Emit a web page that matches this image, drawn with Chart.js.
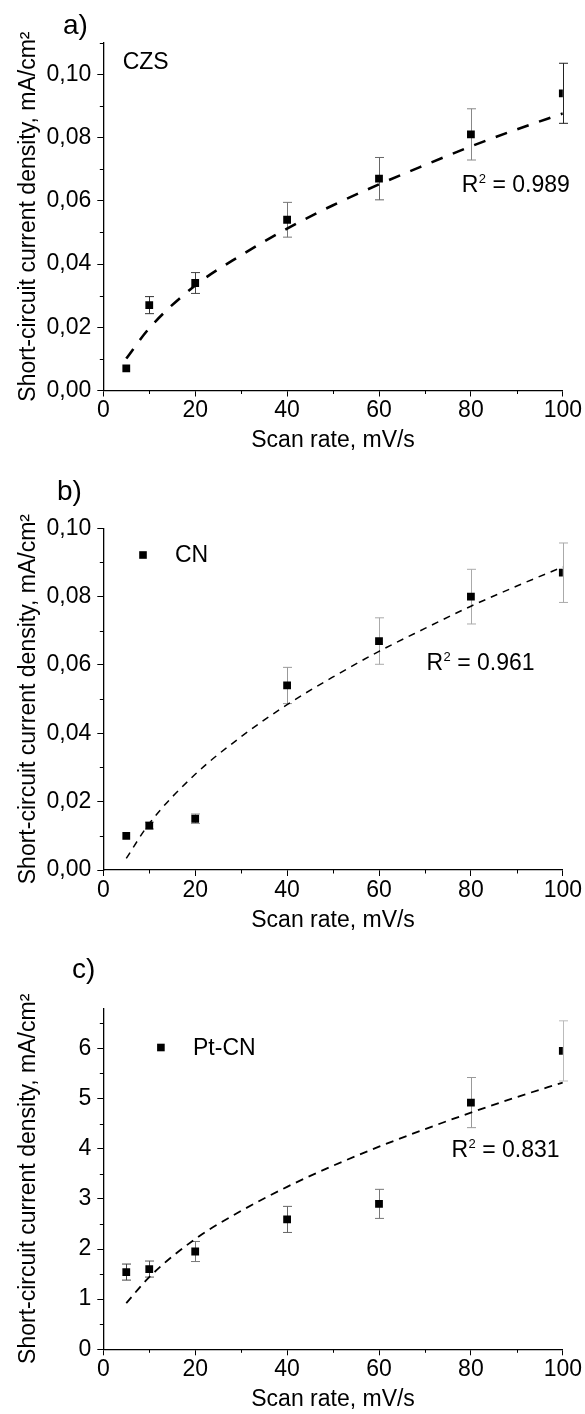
<!DOCTYPE html>
<html>
<head>
<meta charset="utf-8">
<script src="https://cdn.jsdelivr.net/npm/chart.js@4.4.1/dist/chart.umd.min.js"></script>
<style>
  html, body { margin: 0; padding: 0; background: #fff; }
  body { width: 585px; height: 1414px; position: relative; overflow: hidden; }
  canvas { position: absolute; left: 0; width: 585px; }
</style>
</head>
<body>
<canvas id="panelA" width="585" height="470" style="top:0px;height:470px"></canvas>
<canvas id="panelB" width="585" height="470" style="top:470px;height:470px"></canvas>
<canvas id="panelC" width="585" height="474" style="top:940px;height:474px"></canvas>
<script>
const FONT = "'Liberation Sans', Arial, sans-serif"

// scan rates, mV/s
const scanRate = [5, 10, 20, 40, 60, 80, 100]

// a) CZS, mA/cm2
const czsJsc = [0.007, 0.027, 0.034, 0.054, 0.067, 0.081, 0.094]
const czsErr = [0, 0.0027, 0.0033, 0.0055, 0.0067, 0.0081, 0.0095]
// b) CN
const cnJsc = [0.010, 0.013, 0.015, 0.054, 0.067, 0.080, 0.087]
const cnErr = [0, 0.001, 0.0014, 0.0053, 0.0068, 0.0080, 0.0087]
// c) Pt-CN
const ptcnJsc = [1.54, 1.60, 1.95, 2.59, 2.90, 4.92, 5.95]
const ptcnErr = [0.16, 0.16, 0.20, 0.26, 0.29, 0.50, 0.60]

// dashed fit curves
const fitRate = [5, 10, 20, 30, 40, 50, 60, 70, 80, 90, 100]
const czsFit = [0.0101, 0.0197, 0.0332, 0.0428, 0.0512, 0.0586, 0.0652, 0.0713, 0.0772, 0.0826, 0.0876]
const cnFit = [0.0034, 0.0136, 0.0280, 0.0390, 0.0484, 0.0565, 0.0640, 0.0707, 0.0772, 0.0831, 0.0887]
const ptcnFit = [0.92, 1.44, 2.20, 2.76, 3.24, 3.66, 4.04, 4.39, 4.72, 5.03, 5.32]

const sampleNames = ["CZS", "CN", "Pt-CN"]
const r2Values = ["0.989", "0.961", "0.831"]
const panelLetters = ["a)", "b)", "c)"]
const xTitle = "Scan rate, mV/s"
const yTitle = "Short-circuit current density, mA/cm²"

// error bars under the markers
const errorBars = {
  id: "errorBars",
  beforeDatasetsDraw(chart) {
    const ds = chart.data.datasets[0]
    const { x, y } = chart.scales
    const ctx = chart.ctx
    ctx.save()
    ctx.lineWidth = 1
    ds.data.forEach((pt, i) => {
      const e = ds.errors[i]
      if (!e) return
      const px = Math.round(x.getPixelForValue(pt.x)) + 0.5
      const top = y.getPixelForValue(pt.y + e)
      const bot = y.getPixelForValue(pt.y - e)
      ctx.strokeStyle = ds.errorColors[i]
      ctx.beginPath()
      ctx.moveTo(px, top)
      ctx.lineTo(px, bot)
      ctx.moveTo(px - 4.5, top)
      ctx.lineTo(px + 4.5, top)
      ctx.moveTo(px - 4.5, bot)
      ctx.lineTo(px + 4.5, bot)
      ctx.stroke()
    })
    ctx.restore()
  },
}

// short ticks halfway between the labelled ones
const minorTicks = {
  id: "minorTicks",
  afterDraw(chart) {
    const ctx = chart.ctx
    ctx.save()
    ctx.strokeStyle = "#000"
    ctx.lineWidth = 1
    ctx.beginPath()
    for (const id of ["x", "y"]) {
      const s = chart.scales[id]
      const vals = s.ticks.map((t) => t.value)
      const step = vals[1] - vals[0]
      for (let v = vals[0] + step / 2; v <= s.max + 1e-9; v += step) {
        const p = Math.round(s.getPixelForValue(v)) + 0.5
        if (id === "x") {
          ctx.moveTo(p, s.top)
          ctx.lineTo(p, s.top + 3.5)
        } else {
          ctx.moveTo(s.right, p)
          ctx.lineTo(s.right - 3.5, p)
        }
      }
    }
    ctx.stroke()
    ctx.restore()
  },
}

// panel letter, sample label and R² note
const panelText = {
  id: "panelText",
  afterDraw(chart, args, opts) {
    const ctx = chart.ctx
    ctx.save()
    ctx.fillStyle = "#000"
    ctx.textAlign = "left"
    ctx.textBaseline = "alphabetic"
    ctx.font = `28px ${FONT}`
    ctx.fillText(opts.letter, opts.letterPos[0], opts.letterPos[1])
    ctx.font = `23px ${FONT}`
    ctx.fillText(opts.name, opts.namePos[0], opts.namePos[1])
    if (opts.marker) {
      ctx.fillRect(opts.marker[0] - 3.8, opts.marker[1] - 3.8, 7.6, 7.6)
    }
    let [rx, ry] = opts.r2Pos
    ctx.fillText("R", rx, ry)
    rx += ctx.measureText("R").width + 0.5
    ctx.font = `13px ${FONT}`
    ctx.fillText("2", rx, ry - 9)
    rx += ctx.measureText("2").width
    ctx.font = `23px ${FONT}`
    ctx.fillText(" = " + opts.r2, rx, ry)
    ctx.restore()
  },
}

const axisFont = { family: FONT, size: 23, lineHeight: 1 }

function buildPanel(canvasId, p) {
  return new Chart(document.getElementById(canvasId), {
    type: "scatter",
    data: {
      datasets: [
        {
          label: p.name,
          data: scanRate.map((x, i) => ({ x, y: p.jsc[i] })),
          errors: p.err,
          errorColors: p.errColors,
          pointStyle: "rect",
          pointRadius: 5.5,
          pointBackgroundColor: "#000",
          pointBorderWidth: 0,
          order: 0,
        },
        {
          type: "line",
          label: "fit",
          data: fitRate.map((x, i) => ({ x, y: p.fit[i] })),
          borderColor: "#000",
          borderWidth: p.fitWidth,
          borderDash: p.fitDash,
          pointRadius: 0,
          cubicInterpolationMode: "monotone",
          fill: false,
          order: 1,
        },
      ],
    },
    options: {
      responsive: false,
      animation: false,
      devicePixelRatio: 1,
      layout: { padding: { top: p.top, right: 19.5, bottom: p.bottom, left: 0 } },
      plugins: {
        legend: { display: false },
        tooltip: { enabled: false },
        panelText: p.text,
      },
      scales: {
        x: {
          type: "linear",
          min: 0,
          max: 100,
          afterFit: (s) => { s.height = 63 },
          border: { display: true, color: "#000", width: 1.3 },
          grid: { drawOnChartArea: false, drawTicks: true, tickLength: 6, tickColor: "#000", tickWidth: 1 },
          ticks: { stepSize: 20, padding: 3, color: "#000", maxRotation: 0, font: axisFont },
          title: { display: true, text: xTitle, color: "#000", font: axisFont, padding: { top: 0, bottom: 1 } },
        },
        y: {
          type: "linear",
          min: 0,
          max: p.yMax,
          afterFit: (s) => { s.width = 103.3 },
          border: { display: true, color: "#000", width: 1.3 },
          grid: { drawOnChartArea: false, drawTicks: true, tickLength: 6, tickColor: "#000", tickWidth: 1 },
          ticks: { stepSize: p.yStep, includeBounds: false, padding: 6, color: "#000", font: axisFont, callback: p.yFmt },
          title: { display: true, text: yTitle, color: "#000", font: axisFont, padding: { top: 17.5, bottom: 0 } },
        },
      },
    },
    plugins: [errorBars, minorTicks, panelText],
  })
}

const commaFmt = (v) => v.toFixed(2).replace(".", ",")

buildPanel("panelA", {
  name: sampleNames[0],
  jsc: czsJsc,
  err: czsErr,
  errColors: ["#333", "#333", "#444", "#777", "#666", "#888", "#222"],
  fit: czsFit,
  fitWidth: 2.6,
  fitDash: [12, 11],
  yMax: 0.11,
  yStep: 0.02,
  yFmt: commaFmt,
  top: 42.7,
  bottom: 16.5,
  text: {
    letter: panelLetters[0], letterPos: [63, 34],
    name: sampleNames[0], namePos: [122.7, 69.3], marker: null,
    r2: r2Values[0], r2Pos: [461.7, 191.5],
  },
})

buildPanel("panelB", {
  name: sampleNames[1],
  jsc: cnJsc,
  err: cnErr,
  errColors: ["#888", "#888", "#999", "#999", "#aaa", "#aaa", "#aaa"],
  fit: cnFit,
  fitWidth: 1.5,
  fitDash: [7, 6],
  yMax: 0.10,
  yStep: 0.02,
  yFmt: commaFmt,
  top: 58.3,
  bottom: 7,
  text: {
    letter: panelLetters[1], letterPos: [57, 30],
    name: sampleNames[1], namePos: [175, 92], marker: [143, 85],
    r2: r2Values[1], r2Pos: [426.5, 200],
  },
})

buildPanel("panelC", {
  name: sampleNames[2],
  jsc: ptcnJsc,
  err: ptcnErr,
  errColors: ["#444", "#555", "#777", "#666", "#777", "#999", "#bbb"],
  fit: ptcnFit,
  fitWidth: 1.8,
  fitDash: [8, 6],
  yMax: 6.8,
  yStep: 1,
  yFmt: (v) => String(v),
  top: 68.3,
  bottom: 1.7,
  text: {
    letter: panelLetters[2], letterPos: [72, 38],
    name: sampleNames[2], namePos: [193, 115], marker: [160.9, 107.5],
    r2: r2Values[2], r2Pos: [451.5, 217],
  },
})
</script>
</body>
</html>
